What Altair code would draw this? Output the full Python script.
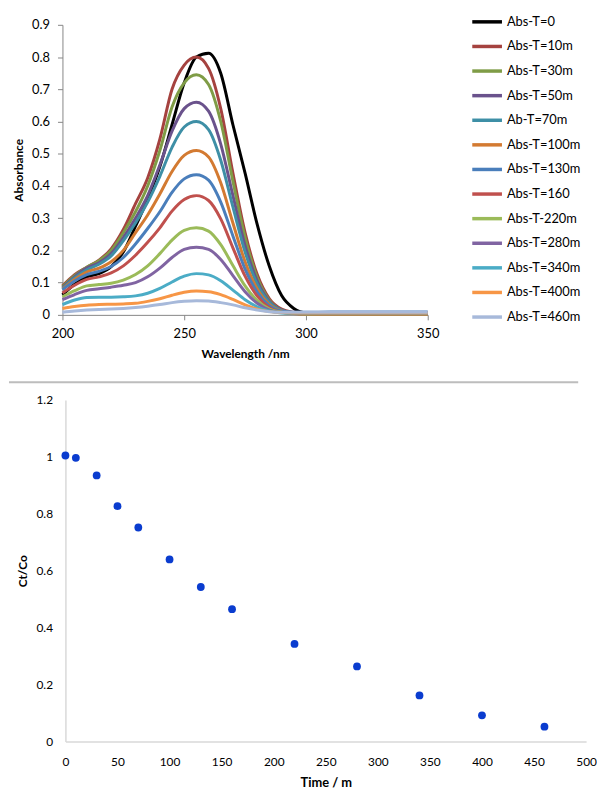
import altair as alt
import pandas as pd

# ---------------- data: UV spectra ----------------
wavelengths = [200, 205, 210, 215, 220, 225, 230, 235, 240, 245, 250, 255, 260,
               265, 270, 275, 280, 285, 290, 295, 300, 310, 320, 330, 340, 350]

series_names = ["Abs-T=0", "Abs-T=10m", "Abs-T=30m", "Abs-T=50m", "Ab-T=70m",
                "Abs-T=100m", "Abs-T=130m", "Abs-T=160", "Abs-T-220m", "Abs-T=280m",
                "Abs-T=340m", "Abs-T=400m", "Abs-T=460m"]
series_colors = ["#000000", "#A5423F", "#7F9C46", "#6A528C", "#3E8FA6",
                 "#D37A31", "#4A7EBB", "#C0504D", "#9BBB59", "#8064A2",
                 "#4BACC6", "#F79646", "#A7B9DA"]

abs_t0 = [0.062, 0.095, 0.118, 0.128, 0.150, 0.195, 0.275, 0.360, 0.460, 0.590, 0.720, 0.800, 0.812,
          0.750, 0.590, 0.440, 0.280, 0.150, 0.060, 0.020, 0.006, 0.004, 0.004, 0.004, 0.004, 0.004]
abs_t10 = [0.090, 0.125, 0.148, 0.170, 0.205, 0.265, 0.345, 0.425, 0.545, 0.700, 0.775, 0.800, 0.765,
           0.640, 0.440, 0.255, 0.125, 0.050, 0.018, 0.008, 0.004, 0.003, 0.003, 0.003, 0.003, 0.003]
abs_t30 = [0.088, 0.122, 0.148, 0.168, 0.200, 0.255, 0.320, 0.400, 0.510, 0.645, 0.720, 0.745, 0.715,
           0.600, 0.415, 0.240, 0.115, 0.045, 0.015, 0.006, 0.003, 0.002, 0.002, 0.002, 0.002, 0.002]
abs_t50 = [0.085, 0.118, 0.145, 0.162, 0.190, 0.240, 0.300, 0.370, 0.465, 0.570, 0.640, 0.660, 0.632,
           0.530, 0.370, 0.215, 0.105, 0.042, 0.015, 0.007, 0.005, 0.005, 0.005, 0.005, 0.005, 0.005]
abs_t70 = [0.082, 0.115, 0.140, 0.157, 0.183, 0.230, 0.285, 0.350, 0.430, 0.520, 0.583, 0.600, 0.575,
           0.480, 0.335, 0.195, 0.095, 0.038, 0.014, 0.007, 0.005, 0.006, 0.006, 0.006, 0.006, 0.006]
abs_t100 = [0.080, 0.110, 0.133, 0.145, 0.165, 0.200, 0.255, 0.310, 0.375, 0.445, 0.495, 0.510, 0.490,
            0.410, 0.285, 0.165, 0.080, 0.032, 0.012, 0.006, 0.005, 0.006, 0.006, 0.006, 0.006, 0.006]
abs_t130 = [0.078, 0.105, 0.125, 0.135, 0.150, 0.178, 0.220, 0.268, 0.320, 0.380, 0.422, 0.435, 0.418,
            0.350, 0.245, 0.142, 0.070, 0.028, 0.011, 0.008, 0.008, 0.009, 0.009, 0.009, 0.009, 0.009]
abs_t160 = [0.068, 0.092, 0.110, 0.118, 0.130, 0.152, 0.185, 0.225, 0.270, 0.322, 0.358, 0.370, 0.355,
            0.298, 0.208, 0.120, 0.058, 0.022, 0.008, 0.004, 0.002, 0.001, 0.001, 0.001, 0.001, 0.001]
abs_t220 = [0.056, 0.075, 0.090, 0.094, 0.098, 0.108, 0.125, 0.152, 0.190, 0.232, 0.262, 0.270, 0.260,
            0.218, 0.153, 0.090, 0.044, 0.018, 0.008, 0.004, 0.003, 0.003, 0.003, 0.003, 0.003, 0.003]
abs_t280 = [0.047, 0.063, 0.076, 0.081, 0.086, 0.092, 0.100, 0.118, 0.145, 0.178, 0.203, 0.210, 0.203,
            0.172, 0.122, 0.072, 0.036, 0.015, 0.007, 0.005, 0.004, 0.004, 0.004, 0.004, 0.004, 0.004]
abs_t340 = [0.032, 0.046, 0.054, 0.055, 0.055, 0.056, 0.059, 0.067, 0.082, 0.102, 0.120, 0.128, 0.124,
            0.106, 0.077, 0.047, 0.025, 0.012, 0.006, 0.005, 0.005, 0.005, 0.005, 0.005, 0.005, 0.005]
abs_t400 = [0.020, 0.026, 0.030, 0.032, 0.033, 0.034, 0.036, 0.042, 0.050, 0.061, 0.070, 0.074, 0.072,
            0.063, 0.048, 0.031, 0.018, 0.010, 0.007, 0.006, 0.006, 0.006, 0.006, 0.006, 0.006, 0.006]
abs_t460 = [0.008, 0.012, 0.015, 0.017, 0.018, 0.020, 0.023, 0.027, 0.032, 0.038, 0.042, 0.044, 0.043,
            0.038, 0.031, 0.022, 0.015, 0.010, 0.008, 0.008, 0.008, 0.008, 0.008, 0.008, 0.008, 0.008]

all_series = [abs_t0, abs_t10, abs_t30, abs_t50, abs_t70, abs_t100, abs_t130,
              abs_t160, abs_t220, abs_t280, abs_t340, abs_t400, abs_t460]

# ---------------- data: kinetics ----------------
times = [0, 10, 30, 50, 70, 100, 130, 160, 220, 280, 340, 400, 460]
ct_co = [1.005, 0.997, 0.935, 0.827, 0.752, 0.640, 0.543, 0.465, 0.343, 0.264, 0.162, 0.092, 0.052]

rows = []
for k, (name, vals) in enumerate(zip(series_names, all_series)):
    for wl, a in zip(wavelengths, vals):
        rows.append({"series": name, "idx": k, "wl": wl, "A": a})
spec_df = pd.DataFrame(rows)
kin_df = pd.DataFrame({"t": times, "c": ct_co})

FONT = "Lato"

top = alt.Chart(spec_df).mark_line(strokeWidth=3, interpolate="monotone").encode(
    x=alt.X("wl:Q", scale=alt.Scale(domain=[200, 350], nice=False),
            axis=alt.Axis(values=[200, 250, 300, 350], title="Wavelength /nm",
                          labelFlush=False,
                          domainColor="#868686", tickColor="#868686", tickSize=5,
                          labelFontSize=13, labelPadding=8, titleFontSize=12,
                          titleFontWeight="bold", titlePadding=8)),
    y=alt.Y("A:Q", scale=alt.Scale(domain=[0, 0.9], nice=False),
            axis=alt.Axis(values=[0, 0.1, 0.2, 0.3, 0.4, 0.5, 0.6, 0.7, 0.8, 0.9],
                          format="~g", title="Absorbance",
                          domainColor="#868686", tickColor="#868686", tickSize=5,
                          labelFontSize=13, labelPadding=8, titleFontSize=12,
                          titleFontWeight="bold", titlePadding=6)),
    color=alt.Color("series:N", sort=series_names,
                    scale=alt.Scale(domain=series_names, range=series_colors),
                    legend=alt.Legend(title=None, orient="none", legendX=412, legendY=-20,
                                      padding=0,
                                      symbolType="stroke", symbolSize=900,
                                      symbolStrokeWidth=3.5, rowPadding=0.85,
                                      labelFontSize=13, labelOffset=3,
                                      labelColor="#000000", labelFont=FONT)),
    detail="idx:O",
).properties(width=369, height=293)

pts = alt.Chart(kin_df).mark_circle(size=62, color="#0A3CCF", opacity=1).encode(
    x=alt.X("t:Q", scale=alt.Scale(domain=[0, 500], nice=False, range=[3, 529]),
            axis=alt.Axis(values=list(range(0, 501, 50)), title="Time / m",
                          labelFlush=False,
                          domainColor="#D9D9D9", domainWidth=1.5, ticks=False,
                          labelFontSize=12, labelPadding=15, titleFontSize=13,
                          titleFontWeight="bold", titlePadding=9)),
    y=alt.Y("c:Q", scale=alt.Scale(domain=[0, 1.2], nice=False),
            axis=alt.Axis(values=[0, 0.2, 0.4, 0.6, 0.8, 1.0, 1.2], format="~g",
                          title="Ct/Co", domainColor="#D9D9D9", domainWidth=1.5,
                          offset=-3,
                          ticks=False, labelFontSize=12, labelPadding=13,
                          titleFontSize=12, titleFontWeight="bold", titlePadding=7)),
)

sep = alt.Chart(pd.DataFrame({"k": [0]})).mark_rule(color="#BDBDBD", strokeWidth=2).encode(
    x=alt.value(-54), x2=alt.value(521), y=alt.value(-18)
)

bottom = alt.layer(sep, pts).properties(width=529, height=345)

chart = alt.vconcat(top, bottom, spacing=22).configure_view(stroke=None).configure_axis(
    grid=False, labelFont=FONT, titleFont=FONT, labelColor="#000000", titleColor="#000000"
).properties(padding={"left": 0, "top": -7, "right": 0, "bottom": 0}, background="white")

chart.save("out.html", embed_options={"renderer": "svg", "actions": False})
